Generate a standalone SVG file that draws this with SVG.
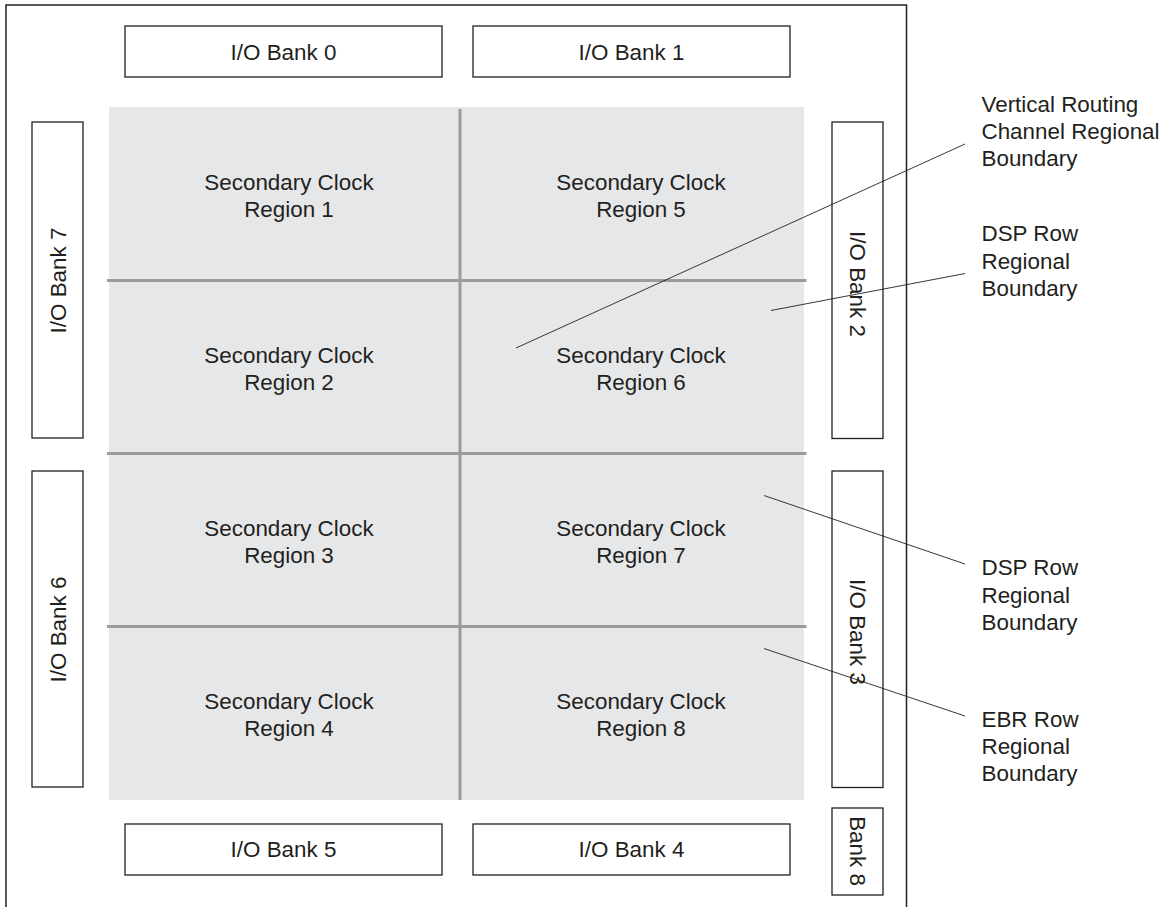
<svg xmlns="http://www.w3.org/2000/svg" width="1169" height="907" viewBox="0 0 1169 907">
<style>
.t{font-family:"Liberation Sans",Arial,sans-serif;font-size:22.4px;fill:#231f20}
.m{text-anchor:middle}
.bank{fill:#fff;stroke:#231f20;stroke-width:1.3}
.div{stroke:#9b9b9b;stroke-width:3;fill:none}
.lead{stroke:#231f20;stroke-width:0.9;fill:none}
</style>
<rect x="0" y="0" width="1169" height="907" fill="#fff"/>
<g id="frame"><rect x="6" y="5" width="900.5" height="910" fill="none" stroke="#231f20" stroke-width="1.5"/></g>
<g id="core">
<rect x="109" y="107" width="695" height="693" fill="#e6e7e8"/>
<line class="div" x1="460" y1="109" x2="460" y2="800"/>
<line class="div" x1="107" y1="280.5" x2="806.5" y2="280.5"/>
<line class="div" x1="107" y1="453.5" x2="806.5" y2="453.5"/>
<line class="div" x1="107" y1="626.5" x2="806.5" y2="626.5"/>
</g>
<g id="region1"><text class="t m" x="289" y="189.5">Secondary Clock</text><text class="t m" x="289" y="216.5">Region 1</text></g>
<g id="region2"><text class="t m" x="289" y="362.5">Secondary Clock</text><text class="t m" x="289" y="389.5">Region 2</text></g>
<g id="region3"><text class="t m" x="289" y="536">Secondary Clock</text><text class="t m" x="289" y="563">Region 3</text></g>
<g id="region4"><text class="t m" x="289" y="709">Secondary Clock</text><text class="t m" x="289" y="736">Region 4</text></g>
<g id="region5"><text class="t m" x="641" y="189.5">Secondary Clock</text><text class="t m" x="641" y="216.5">Region 5</text></g>
<g id="region6"><text class="t m" x="641" y="362.5">Secondary Clock</text><text class="t m" x="641" y="389.5">Region 6</text></g>
<g id="region7"><text class="t m" x="641" y="536">Secondary Clock</text><text class="t m" x="641" y="563">Region 7</text></g>
<g id="region8"><text class="t m" x="641" y="709">Secondary Clock</text><text class="t m" x="641" y="736">Region 8</text></g>
<g id="bank0"><rect class="bank" x="125" y="26" width="317" height="51"/><text class="t m" x="283.5" y="60">I/O Bank 0</text></g>
<g id="bank1"><rect class="bank" x="473" y="26" width="317" height="51"/><text class="t m" x="631.5" y="60">I/O Bank 1</text></g>
<g id="bank5"><rect class="bank" x="125" y="824" width="317" height="51"/><text class="t m" x="283.5" y="857">I/O Bank 5</text></g>
<g id="bank4"><rect class="bank" x="473" y="824" width="317" height="51"/><text class="t m" x="631.5" y="857">I/O Bank 4</text></g>
<g id="bank7"><rect class="bank" x="32" y="122" width="51" height="316"/><text class="t m" transform="translate(65.5,280.5) rotate(-90)">I/O Bank 7</text></g>
<g id="bank6"><rect class="bank" x="32" y="471" width="51" height="316"/><text class="t m" transform="translate(65.5,629.5) rotate(-90)">I/O Bank 6</text></g>
<g id="bank2"><rect class="bank" x="832" y="122" width="51" height="316.5"/><text class="t m" transform="translate(849.5,284) rotate(90)">I/O Bank 2</text></g>
<g id="bank3"><rect class="bank" x="832" y="471" width="51" height="316.5"/><text class="t m" transform="translate(849.5,632) rotate(90)">I/O Bank 3</text></g>
<g id="bank8"><rect class="bank" x="832" y="808" width="51" height="87"/><text class="t m" transform="translate(849.5,851) rotate(90)">Bank 8</text></g>
<g id="connectors">
<line class="lead" x1="965" y1="144" x2="516" y2="348"/>
<line class="lead" x1="965" y1="273.5" x2="771" y2="310.5"/>
<line class="lead" x1="764" y1="495.5" x2="965" y2="564"/>
<line class="lead" x1="764" y1="648.5" x2="965" y2="716"/>
</g>
<g id="label-vrc"><text class="t" x="981.5" y="111.5">Vertical Routing</text><text class="t" x="981.5" y="139">Channel Regional</text><text class="t" x="981.5" y="166">Boundary</text></g>
<g id="label-dsp1"><text class="t" x="981.5" y="241">DSP Row</text><text class="t" x="981.5" y="268.5">Regional</text><text class="t" x="981.5" y="295.5">Boundary</text></g>
<g id="label-dsp2"><text class="t" x="981.5" y="575">DSP Row</text><text class="t" x="981.5" y="602.5">Regional</text><text class="t" x="981.5" y="629.5">Boundary</text></g>
<g id="label-ebr"><text class="t" x="981.5" y="727">EBR Row</text><text class="t" x="981.5" y="754">Regional</text><text class="t" x="981.5" y="781">Boundary</text></g>
</svg>
